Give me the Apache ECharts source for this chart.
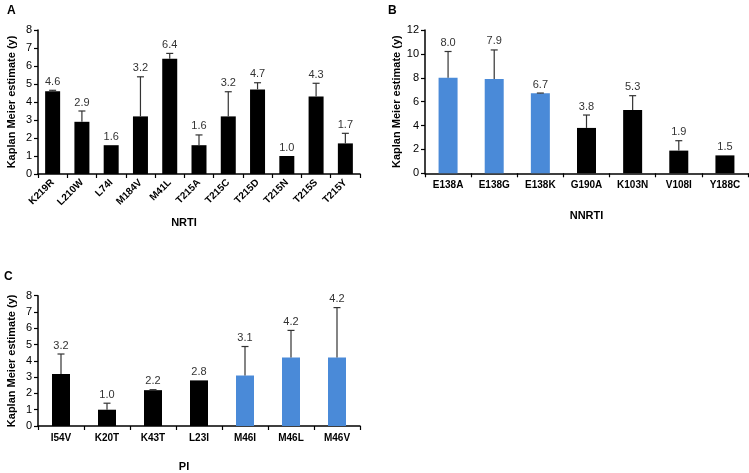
<!DOCTYPE html>
<html>
<head>
<meta charset="utf-8">
<script src="https://cdn.jsdelivr.net/npm/echarts@6/dist/echarts.min.js"></script>
<style>html,body{margin:0;padding:0;background:#fff}#c{width:749px;height:473px}</style>
</head>
<body>
<div id="c"></div>
<script>
var nrtiCats = ['K219R','L210W','L74I','M184V','M41L','T215A','T215C','T215D','T215N','T215S','T215Y'];
var nrtiVals = [4.6,2.9,1.6,3.2,6.4,1.6,3.2,4.7,1.0,4.3,1.7];
var nrtiUpper = [4.65,3.5,null,5.4,6.7,2.17,4.57,5.07,null,5.04,2.26];
var nrtiBlue = [false,false,false,false,false,false,false,false,false,false,false];

var nnrtiCats = ['E138A','E138G','E138K','G190A','K103N','V108I','Y188C'];
var nnrtiVals = [8.0,7.9,6.7,3.8,5.3,1.9,1.5];
var nnrtiUpper = [10.2,10.33,6.72,4.88,6.5,2.73,null];
var nnrtiBlue = [true,true,true,false,false,false,false];

var piCats = ['I54V','K20T','K43T','L23I','M46I','M46L','M46V'];
var piVals = [3.2,1.0,2.2,2.8,3.1,4.2,4.2];
var piUpper = [4.42,1.40,2.23,null,4.88,5.87,7.27];
var piBlue = [false,false,false,false,true,true,true];

var BLUE = '#4a8ad8', BLACK = '#000000';
var FONT = 'Liberation Sans, Arial, sans-serif';

function barData(vals, blue) {
  return vals.map(function (v, i) {
    return { value: v, itemStyle: { color: blue[i] ? BLUE : BLACK } };
  });
}
function errData(vals, upper) {
  return vals.map(function (v, i) { return [i, v, upper[i] == null ? v : upper[i], upper[i] != null ? 1 : 0]; });
}
function renderErr(params, api) {
  var x = api.value(0), v = api.value(1), u = api.value(2), has = api.value(3);
  var pv = api.coord([x, v]);
  var pu = api.coord([x, u]);
  var children = [];
  if (has) {
    children.push({ type: 'line', shape: { x1: pv[0], y1: pv[1], x2: pu[0], y2: pu[1] }, style: { stroke: '#333', lineWidth: 1.2 } });
    children.push({ type: 'line', shape: { x1: pu[0] - 3.5, y1: pu[1], x2: pu[0] + 3.5, y2: pu[1] }, style: { stroke: '#333', lineWidth: 1.2 } });
  }
  children.push({ type: 'text', x: pu[0], y: pu[1] - 3, style: { text: v.toFixed(1), fill: '#333', font: '11px ' + FONT, textAlign: 'center', textVerticalAlign: 'bottom' } });
  return { type: 'group', children: children };
}

function xAx(idx, cats, name, gap, rotate, pad) {
  return {
    type: 'category', gridIndex: idx, data: cats,
    name: name, nameLocation: 'middle', nameGap: gap,
    nameTextStyle: { color: '#000', fontWeight: 'bold', fontSize: 11, fontFamily: FONT, padding: pad || 0 },
    axisLine: { lineStyle: { color: '#000', width: 1.5 } },
    axisTick: { show: true, alignWithLabel: false, length: 4, lineStyle: { color: '#000', width: 1.2 } },
    axisLabel: { color: '#000', fontWeight: 'bold', fontSize: 10, fontFamily: FONT, rotate: rotate, margin: 7, interval: 0 }
  };
}
function yAx(idx, max, interval) {
  return {
    type: 'value', gridIndex: idx, min: 0, max: max, interval: interval,
    name: 'Kaplan Meier estimate (y)', nameLocation: 'middle', nameGap: 21, nameRotate: 90,
    nameTextStyle: { color: '#000', fontWeight: 'bold', fontSize: 11, fontFamily: FONT },
    splitLine: { show: false },
    axisLine: { show: true, lineStyle: { color: '#000', width: 1.5 } },
    axisTick: { show: true, length: 4, lineStyle: { color: '#000', width: 1.2 } },
    axisLabel: { color: '#000', fontSize: 11, fontFamily: FONT, margin: 6 }
  };
}

var chart = echarts.init(document.getElementById('c'));
chart.setOption({
  animation: false,
  backgroundColor: '#fff',
  graphic: [
    { type: 'text', left: 7, top: 5, style: { text: 'A', font: 'bold 12px ' + FONT, fill: '#000' } },
    { type: 'text', left: 388, top: 5, style: { text: 'B', font: 'bold 12px ' + FONT, fill: '#000' } },
    { type: 'text', left: 4, top: 271, style: { text: 'C', font: 'bold 12px ' + FONT, fill: '#000' } }
  ],
  grid: [
    { left: 38, top: 30, width: 322, height: 144 },
    { left: 425, top: 30, width: 323, height: 143.3 },
    { left: 38, top: 295.7, width: 322, height: 137.6 }
  ],
  xAxis: [
    xAx(0, nrtiCats, 'NRTI', 43, 45, [0, 30, 0, 0]),
    xAx(1, nnrtiCats, 'NNRTI', 37, 0),
    xAx(2, piCats, 'PI', 35, 0, [0, 30, 0, 0])
  ],
  yAxis: [ yAx(0, 8, 1), yAx(1, 12, 2), yAx(2, 8, 1) ],
  series: [
    { type: 'bar', xAxisIndex: 0, yAxisIndex: 0, barWidth: 15, data: barData(nrtiVals, nrtiBlue) },
    { type: 'custom', xAxisIndex: 0, yAxisIndex: 0, renderItem: renderErr, data: errData(nrtiVals, nrtiUpper), z: 5 },
    { type: 'bar', xAxisIndex: 1, yAxisIndex: 1, barWidth: 19, data: barData(nnrtiVals, nnrtiBlue) },
    { type: 'custom', xAxisIndex: 1, yAxisIndex: 1, renderItem: renderErr, data: errData(nnrtiVals, nnrtiUpper), z: 5 },
    { type: 'bar', xAxisIndex: 2, yAxisIndex: 2, barWidth: 18, data: barData(piVals, piBlue) },
    { type: 'custom', xAxisIndex: 2, yAxisIndex: 2, renderItem: renderErr, data: errData(piVals, piUpper), z: 5 }
  ]
});
</script>
</body>
</html>
